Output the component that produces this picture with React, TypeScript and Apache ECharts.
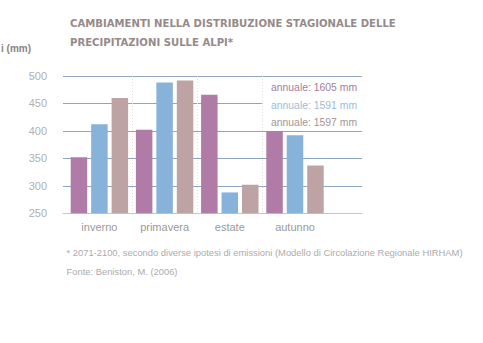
import React, { useEffect, useRef } from "react";
import * as echarts from "echarts";

const categories = ["inverno", "primavera", "estate", "autunno"];
const scenarioA = [352, 402, 466, 400];
const scenarioB = [412, 488, 288, 392];
const scenarioC = [460, 492, 302, 337];
const annualTotals = [1605, 1591, 1597];
const seriesColors = ["#b07ba7", "#87b3da", "#bea3a5"];
const annotationColors = ["#a47c9f", "#9dbbd6", "#a49495"];
const yTicks = [250, 300, 350, 400, 450, 500];
const titleLines = [
  "CAMBIAMENTI NELLA DISTRIBUZIONE STAGIONALE DELLE",
  "PRECIPITAZIONI SULLE ALPI*",
];
const yAxisName = "i (mm)";
const footnotes = [
  "* 2071-2100, secondo diverse ipotesi di emissioni (Modello di Circolazione Regionale HIRHAM)",
  "Fonte: Beniston, M. (2006)",
];

const SANS = "'Liberation Sans', Arial, Helvetica, sans-serif";

export default function App() {
  const ref = useRef<HTMLDivElement>(null);
  useEffect(() => {
    if (!ref.current) return;
    document.body.style.margin = "0";
    const chart = echarts.init(ref.current, null, { renderer: "svg" });
    const values = [scenarioA, scenarioB, scenarioC];
    const annY = [87, 105, 122];
    chart.setOption({
      animation: false,
      backgroundColor: "#ffffff",
      grid: [
        { left: 66.8, width: 260.8, top: 76, bottom: 129.7 },
        { left: 63, right: 121, top: 76, bottom: 129.7 },
      ],
      xAxis: [
        {
          type: "category",
          gridIndex: 0,
          data: categories,
          axisLine: { show: false },
          axisTick: { show: false },
          axisLabel: { color: "#9a9a9a", fontSize: 11, fontFamily: SANS, margin: 8 },
          splitLine: {
            show: true,
            showMinLine: false,
            showMaxLine: false,
            lineStyle: { color: "#e6dcdc", type: [1, 2], width: 1 },
          },
          z: 1,
        },
        {
          type: "value",
          gridIndex: 1,
          min: 0,
          max: 1,
          axisLine: { show: true, lineStyle: { color: "#b3cbe0", width: 1 } },
          axisTick: { show: false },
          axisLabel: { show: false },
          splitLine: { show: false },
          z: 3,
        },
      ],
      yAxis: [
        { type: "value", gridIndex: 0, min: 250, max: 500, interval: 50, show: false },
        {
          type: "value",
          gridIndex: 1,
          min: 250,
          max: 500,
          interval: 50,
          axisLine: { show: false },
          axisTick: { show: false },
          axisLabel: {
            color: "#b0b0b0",
            fontSize: 11,
            fontFamily: SANS,
            margin: 16,
            formatter: (v: number) => (yTicks.includes(v) ? String(v) : ""),
          },
          splitLine: {
            show: true,
            showMinLine: false,
            lineStyle: { color: "#8ea6bd", width: 1 },
          },
        },
      ],
      series: values.map((d, i) => ({
        type: "bar",
        name: `annuale: ${annualTotals[i]} mm`,
        xAxisIndex: 0,
        yAxisIndex: 0,
        data: d,
        barWidth: 16.5,
        barGap: "24%",
        itemStyle: { color: seriesColors[i] },
        z: 5,
      })),
      graphic: [
        ...titleLines.map((t, i) => ({
          type: "text",
          left: 70,
          top: 18 + i * 19,
          style: {
            text: t,
            fill: "#958a8a",
            font: "bold 10.1px 'DejaVu Sans', sans-serif",
          },
        })),
        {
          type: "text",
          left: 1,
          top: 43,
          style: { text: yAxisName, fill: "#8c8282", font: `bold 10px ${SANS}` },
        },
        ...annualTotals.map((v, i) => ({
          type: "text",
          x: 263,
          y: annY[i],
          z: 20,
          style: {
            text: `annuale: ${v} mm`,
            fill: annotationColors[i],
            font: `10.4px ${SANS}`,
            verticalAlign: "middle",
            align: "left",
            backgroundColor: i === 1 ? "#ffffff" : "transparent",
            padding: [3, 8, 3, 8],
          },
        })),
        ...footnotes.map((t, i) => ({
          type: "text",
          left: 66.5,
          top: 248 + i * 18.5,
          style: { text: t, fill: "#ababab", font: `9.4px ${SANS}` },
        })),
      ],
    });
    return () => chart.dispose();
  }, []);
  return <div ref={ref} style={{ width: 483, height: 343 }} />;
}
